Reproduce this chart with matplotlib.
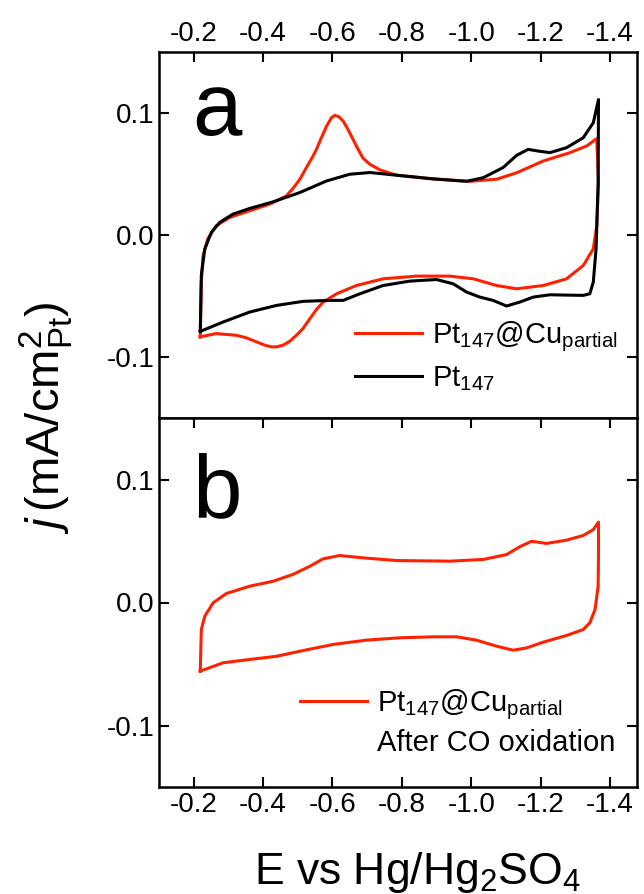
import matplotlib
matplotlib.use("Agg")
import matplotlib.pyplot as plt
from matplotlib.lines import Line2D

plt.rcParams['font.family'] = ['Liberation Sans', 'DejaVu Sans']
plt.rcParams['mathtext.fontset'] = 'custom'
plt.rcParams['mathtext.rm'] = 'Liberation Sans'
plt.rcParams['mathtext.it'] = 'Liberation Sans:italic'

# ---- Data (E in V vs Hg/Hg2SO4, j in mA/cm2_Pt) ----
# Panel a: Pt147@Cu_partial (closed CV loop)
cu_E = [-0.219, -0.222, -0.227, -0.241, -0.265, -0.304, -0.362, -0.419, -0.467, -0.486,
        -0.506, -0.525, -0.544, -0.554, -0.568, -0.583, -0.597, -0.607, -0.619, -0.631,
        -0.645, -0.660, -0.674, -0.688, -0.708, -0.737, -0.785, -0.890, -0.996,
        -1.073, -1.131, -1.208, -1.285, -1.333, -1.362, -1.367, -1.362, -1.352,
        -1.323, -1.275, -1.208, -1.131, -1.073, -1.006, -0.938, -0.842, -0.746, -0.669,
        -0.612, -0.573, -0.554, -0.535, -0.515, -0.496, -0.477, -0.458, -0.439, -0.424,
        -0.405, -0.381, -0.352, -0.323, -0.265, -0.219]
cu_j = [-0.0835, -0.0386, -0.017, -0.003, 0.0076, 0.0144, 0.0199, 0.0253, 0.032, 0.0381,
        0.0457, 0.0553, 0.0647, 0.0702, 0.0797, 0.0892, 0.0961, 0.098, 0.0969, 0.0933,
        0.0865, 0.078, 0.0702, 0.063, 0.058, 0.0534, 0.049, 0.046, 0.044,
        0.0457, 0.051, 0.0607, 0.0675, 0.073, 0.079, 0.043, 0.0076, -0.0114,
        -0.025, -0.0359, -0.0414, -0.0441, -0.0414, -0.0359, -0.0337, -0.0337, -0.0359, -0.0414,
        -0.0482, -0.055, -0.061, -0.0686, -0.0767, -0.0822, -0.0871, -0.0903, -0.0917, -0.0917,
        -0.0903, -0.0876, -0.0843, -0.0822, -0.0808, -0.0835]

# Panel a: Pt147
pt_E = [-0.219, -0.222, -0.232, -0.251, -0.275, -0.313, -0.362, -0.429, -0.506, -0.583,
        -0.650, -0.708, -0.785, -0.890, -0.987, -1.035, -1.092, -1.131, -1.164, -1.193,
        -1.227, -1.275, -1.323, -1.352, -1.367, -1.366, -1.360, -1.352, -1.342,
        -1.323, -1.227, -1.179, -1.140, -1.102, -1.063, -1.025, -0.987, -0.948, -0.900,
        -0.823, -0.746, -0.679, -0.631, -0.592, -0.515, -0.439, -0.362, -0.285, -0.219]
pt_j = [-0.079, -0.033, -0.0114, 0.0022, 0.0103, 0.0171, 0.0218, 0.0272, 0.0348, 0.0443,
        0.0498, 0.0512, 0.049, 0.046, 0.044, 0.047, 0.0553, 0.0653, 0.0702, 0.0688,
        0.0675, 0.0716, 0.0797, 0.092, 0.111, 0.043, -0.0114, -0.0386, -0.0482,
        -0.0495, -0.049, -0.0509, -0.055, -0.0582, -0.0536, -0.0509, -0.0468, -0.040, -0.0365,
        -0.0378, -0.0414, -0.0482, -0.0536, -0.0536, -0.0544, -0.0577, -0.0631, -0.0713, -0.079]

# Panel b: Pt147@Cu_partial after CO oxidation
co_E = [-0.219, -0.222, -0.232, -0.256, -0.294, -0.362, -0.429, -0.486, -0.535, -0.573,
        -0.621, -0.688, -0.785, -0.938, -1.035, -1.102, -1.140, -1.174, -1.217, -1.275,
        -1.323, -1.352, -1.367, -1.367, -1.366, -1.357, -1.342,
        -1.323, -1.275, -1.208, -1.160, -1.121, -1.073, -1.015, -0.958, -0.890, -0.794,
        -0.698, -0.602, -0.506, -0.439, -0.362, -0.285, -0.219]
co_j = [-0.0558, -0.022, -0.0111, -0.0003, 0.0073, 0.0133, 0.0173, 0.0228, 0.0295, 0.0355,
        0.0382, 0.0363, 0.0341, 0.0336, 0.035, 0.039, 0.0453, 0.0498, 0.048, 0.0507,
        0.0545, 0.0593, 0.0653, 0.0404, 0.0133, -0.0057, -0.0165,
        -0.022, -0.0268, -0.0322, -0.0369, -0.0388, -0.0355, -0.0306, -0.0279, -0.0279, -0.0287,
        -0.0306, -0.0341, -0.0396, -0.0437, -0.0463, -0.049, -0.0558]

x_ticks = [-0.2, -0.4, -0.6, -0.8, -1.0, -1.2, -1.4]
x_ticklabels = ['-0.2', '-0.4', '-0.6', '-0.8', '-1.0', '-1.2', '-1.4']
y_ticks = [-0.1, 0.0, 0.1]
y_ticklabels = ['-0.1', '0.0', '0.1']

RED = '#ff2000'
FS = 20
LW = 2.2

fig = plt.figure(figsize=(6.44, 8.94), dpi=100)
ax1 = fig.add_axes([159/644, 1 - 418/894, 478/644, 366/894])
ax2 = fig.add_axes([159/644, 1 - 787/894, 478/644, 369/894])

for ax in (ax1, ax2):
    ax.set_xlim(-0.1, -1.478)
    ax.set_ylim(-0.15, 0.15)
    ax.set_yticks(y_ticks)
    ax.set_yticklabels(y_ticklabels)
    ax.set_xticks(x_ticks)
    ax.tick_params(direction='in', length=7, width=1.5, labelsize=FS,
                   left=True, right=True, top=True, bottom=True)
    for s in ax.spines.values():
        s.set_linewidth(1.8)

ax1.tick_params(labeltop=True, labelbottom=False, bottom=False)
ax1.set_xticklabels(x_ticklabels)
ax2.set_xticklabels(x_ticklabels)
ax2.tick_params(labelbottom=True, labeltop=False)

l1, = ax1.plot(cu_E, cu_j, color=RED, lw=LW)
l2, = ax1.plot(pt_E, pt_j, color='black', lw=LW)
ax1.legend([l1, l2], [r'Pt$_{147}$@Cu$_{\mathrm{partial}}$', r'Pt$_{147}$'],
           loc='lower right', bbox_to_anchor=(1.015, -0.003), frameon=False, fontsize=21,
           handlelength=2.3, handletextpad=0.35, labelspacing=0.35)
ax1.text(0.07, 0.95, 'a', transform=ax1.transAxes, fontsize=64, va='top', ha='left')

l3, = ax2.plot(co_E, co_j, color=RED, lw=LW)
blank = Line2D([], [], color='none')
ax2.legend([l3, blank], [r'Pt$_{147}$@Cu$_{\mathrm{partial}}$', 'After CO oxidation'],
           loc='lower right', bbox_to_anchor=(1.01, 0.01), frameon=False, fontsize=21,
           handlelength=2.3, handletextpad=0.35, labelspacing=0.25)
ax2.text(0.07, 0.908, 'b', transform=ax2.transAxes, fontsize=64, va='top', ha='left')

fig.text(0.072, 1 - 418/894, r'$j\,$(mA/cm$^2_{\mathrm{Pt}}$)', rotation=90,
         fontsize=34, ha='center', va='center')
fig.text(418/644, 10/894, r'E vs Hg/Hg$_2$SO$_4$', fontsize=32,
         ha='center', va='baseline')

fig.savefig('out.png', dpi=100)
